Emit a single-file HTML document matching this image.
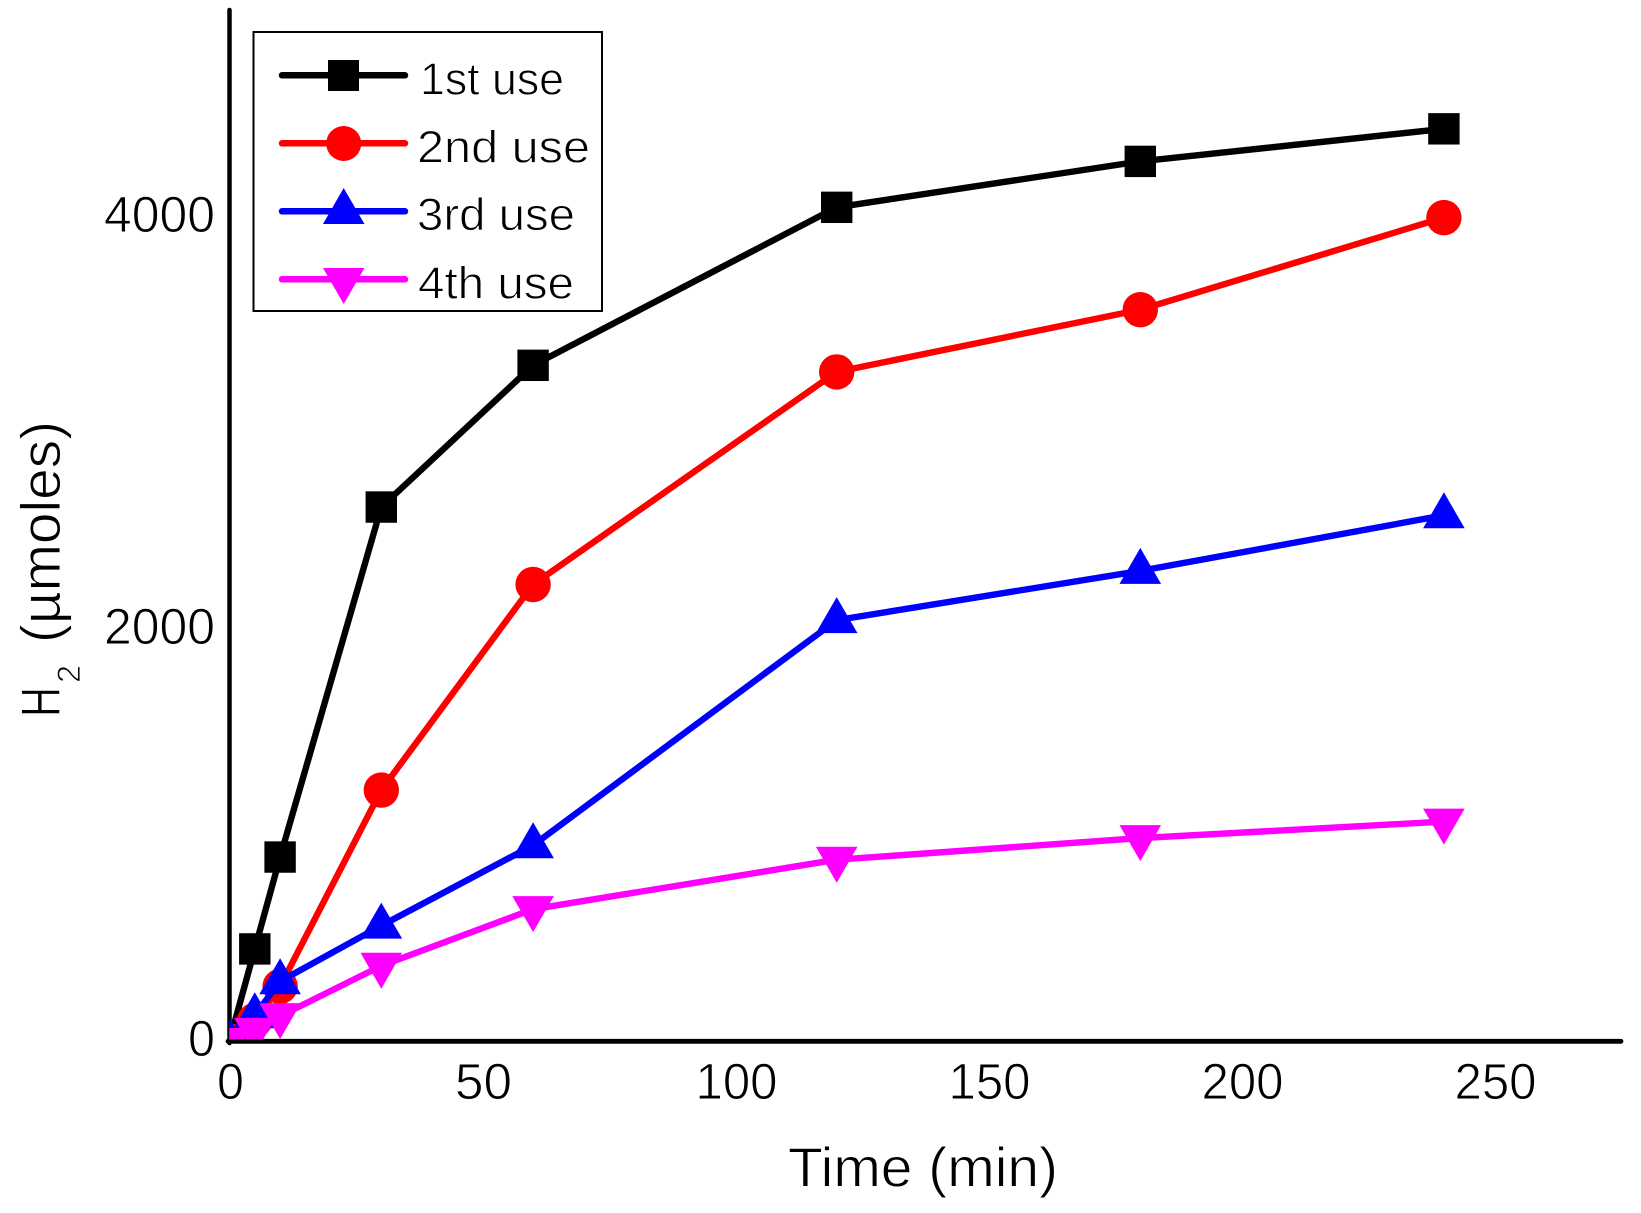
<!DOCTYPE html>
<html lang="en">
<head>
<meta charset="utf-8">
<title>H2 evolution over time</title>
<style>
html,body{margin:0;padding:0;background:#fff;}
svg{display:block;}
text{font-family:"Liberation Sans",sans-serif;fill:#000;stroke:#fff;stroke-width:.9px;}
</style>
</head>
<body>
<svg id="chart" xmlns="http://www.w3.org/2000/svg" width="1641" height="1213" viewBox="0 0 1641 1213">
  <defs>
    <clipPath id="plot-clip"><rect x="229.3" y="0" width="1411" height="1039.5"/></clipPath>
  </defs>
  <rect x="0" y="0" width="1641" height="1213" fill="#fff"/>
  <line x1="229.5" y1="10" x2="229.5" y2="1043" stroke="#000" stroke-width="4.5" stroke-linecap="round"/>
  <line x1="228" y1="1041.3" x2="1621" y2="1041.3" stroke="#000" stroke-width="4.8" stroke-linecap="round"/>
  <g id="x-ticks"></g>
  <g id="y-ticks"></g>
  <text x="788" y="1186.5" font-size="56" textLength="270" lengthAdjust="spacingAndGlyphs">Time (min)</text>
  <g>
    <text transform="translate(60,717) rotate(-90)" font-size="56" textLength="30" lengthAdjust="spacingAndGlyphs">H</text>
    <text transform="translate(80,683) rotate(-90)" font-size="32" textLength="18" lengthAdjust="spacingAndGlyphs">2</text>
    <text transform="translate(60,643) rotate(-90)" font-size="56" textLength="222" lengthAdjust="spacingAndGlyphs">(µmoles)</text>
  </g>
  <g id="series-layer"></g>
  <g>
    <rect x="253.5" y="32" width="348.5" height="279" fill="#fff" stroke="#000" stroke-width="2"/>
    <g>
      <line x1="282" y1="75.3" x2="405" y2="75.3" stroke="#000" stroke-width="6.5" stroke-linecap="round"/>
      <rect x="328" y="60" width="31" height="31" fill="#000"/>
      <text x="420" y="94.3" font-size="45" textLength="144" lengthAdjust="spacingAndGlyphs">1st use</text>
    </g>
    <g>
      <line x1="282" y1="143.3" x2="405" y2="143.3" stroke="#f00" stroke-width="6.5" stroke-linecap="round"/>
      <circle cx="343.7" cy="143.5" r="17.5" fill="#f00"/>
      <text x="417" y="162.3" font-size="45" textLength="173" lengthAdjust="spacingAndGlyphs">2nd use</text>
    </g>
    <g>
      <line x1="282" y1="211.3" x2="405" y2="211.3" stroke="#00f" stroke-width="6.5" stroke-linecap="round"/>
      <polygon points="343.7,188 364.5,224 323,224" fill="#00f"/>
      <text x="417" y="230" font-size="45" textLength="158" lengthAdjust="spacingAndGlyphs">3rd use</text>
    </g>
    <g>
      <line x1="282" y1="279.3" x2="405" y2="279.3" stroke="#f0f" stroke-width="6.5" stroke-linecap="round"/>
      <polygon points="323,268 364.5,268 343.7,304" fill="#f0f"/>
      <text x="418" y="298.3" font-size="45" textLength="156" lengthAdjust="spacingAndGlyphs">4th use</text>
    </g>
  </g>
</svg>
<script>
const times = [0, 5, 10, 30, 60, 120, 180, 240];
const firstUse = [0, 447, 893, 2592, 3280, 4047, 4270, 4428];
const secondUse = [0, 100, 265, 1218, 2216, 3248, 3550, 3997];
const thirdUse = [0, 125, 290, 560, 950, 2043, 2282, 2552];
const fourthUse = [0, 49, 121, 365, 640, 880, 985, 1065];
const xTickValues = [0, 50, 100, 150, 200, 250];
const yTickValues = [0, 2000, 4000];

const NS = 'http://www.w3.org/2000/svg';
function xScale(v) { return 229.5 + v * 5.06; }
function yScale(v) { return 1041 - v * 0.206; }

function make(tag, attrs, parent) {
  const el = document.createElementNS(NS, tag);
  for (const k in attrs) el.setAttribute(k, attrs[k]);
  parent.appendChild(el);
  return el;
}

const labelWidths = { 1: 27, 2: 57, 3: 82, 4: 111 };

const xTickGroup = document.getElementById('x-ticks');
xTickValues.forEach(function (v) {
  const s = String(v);
  const t = make('text', { x: xScale(v) + 1, y: 1099, 'font-size': 51, 'text-anchor': 'middle', textLength: labelWidths[s.length], lengthAdjust: 'spacingAndGlyphs' }, xTickGroup);
  
  
  t.textContent = s;
});

const yTickGroup = document.getElementById('y-ticks');
yTickValues.forEach(function (v) {
  const s = String(v);
  const t = make('text', { x: 215, y: yScale(v) + 15, 'font-size': 51, 'text-anchor': 'end', textLength: labelWidths[s.length], lengthAdjust: 'spacingAndGlyphs' }, yTickGroup);
  
  
  t.textContent = s;
});

function drawMarker(shape, color, cx, cy, parent) {
  let m;
  if (shape === 'square') {
    m = make('rect', { x: cx - 15.7, y: cy - 15.7, width: 31.4, height: 31.4, fill: color }, parent);
  } else if (shape === 'circle') {
    m = make('circle', { cx: cx, cy: cy, r: 17.7, fill: color }, parent);
  } else if (shape === 'up') {
    m = make('polygon', { points: cx + ',' + (cy - 23) + ' ' + (cx + 20.8) + ',' + (cy + 13) + ' ' + (cx - 20.8) + ',' + (cy + 13), fill: color }, parent);
  } else {
    m = make('polygon', { points: (cx - 20.8) + ',' + (cy - 13) + ' ' + (cx + 20.8) + ',' + (cy - 13) + ' ' + cx + ',' + (cy + 23), fill: color }, parent);
  }
  return m;
}

function drawSeries(name, values, color, shape) {
  const layer = document.getElementById('series-layer');
  const g = make('g', {}, layer);
  
  
  const pts = values.map(function (v, i) { return xScale(times[i]) + ',' + yScale(v); }).join(' ');
  const line = make('polyline', { points: pts, fill: 'none', stroke: color, 'stroke-width': 6.4, 'stroke-linejoin': 'round', 'clip-path': 'url(#plot-clip)' }, g);
  
  
  const markers = make('g', { 'clip-path': 'url(#plot-clip)' }, g);
  values.forEach(function (v, i) {
    const m = drawMarker(shape, color, xScale(times[i]), yScale(v), markers);
    
    
  });
}

drawSeries('1st-use', firstUse, '#000', 'square');
drawSeries('2nd-use', secondUse, '#f00', 'circle');
drawSeries('3rd-use', thirdUse, '#00f', 'up');
drawSeries('4th-use', fourthUse, '#f0f', 'down');
</script>
</body>
</html>
